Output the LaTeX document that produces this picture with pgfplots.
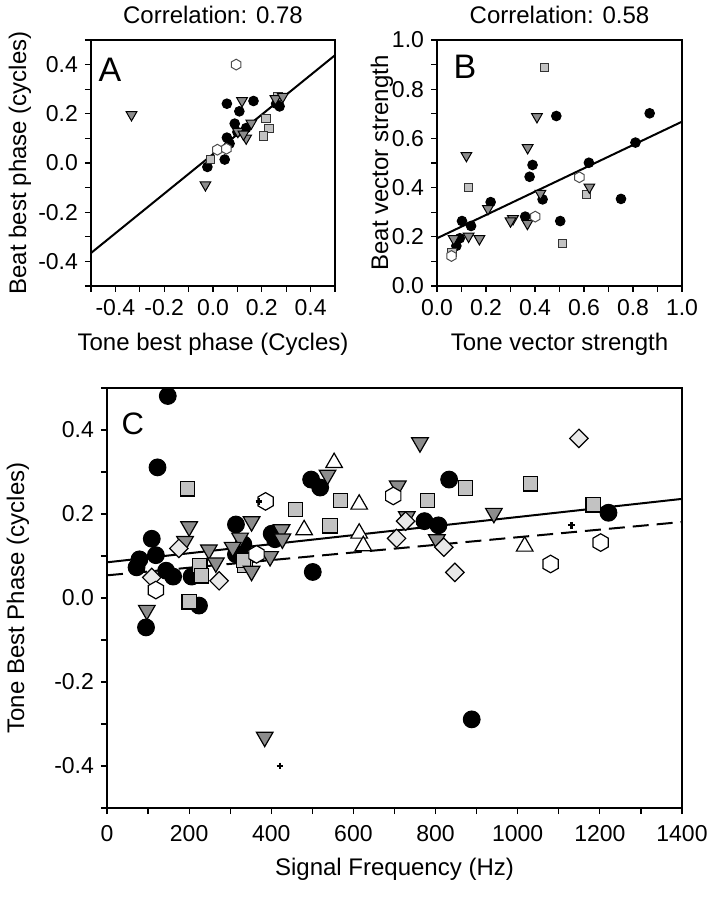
\documentclass[border=0pt]{standalone}
\usepackage{pgfplots}
\pgfplotsset{compat=1.18}
\usepackage{fontspec}
\setmainfont{Liberation Sans}

\definecolor{trigray}{gray}{0.55}
\definecolor{sqgray}{gray}{0.76}
\definecolor{diagray}{gray}{0.91}

\pgfdeclareplotmark{hexagon}{%
  \pgfpathmoveto{\pgfpointpolar{90}{\pgfplotmarksize}}%
  \pgfpathlineto{\pgfpointpolar{150}{\pgfplotmarksize}}%
  \pgfpathlineto{\pgfpointpolar{210}{\pgfplotmarksize}}%
  \pgfpathlineto{\pgfpointpolar{270}{\pgfplotmarksize}}%
  \pgfpathlineto{\pgfpointpolar{330}{\pgfplotmarksize}}%
  \pgfpathlineto{\pgfpointpolar{30}{\pgfplotmarksize}}%
  \pgfpathclose
  \pgfusepathqfillstroke}

\pgfplotsset{
  panel/.style={
    scale only axis,
    axis line style={line width=0.8pt},
    tick align=outside,
    xtick pos=left, ytick pos=left,
    major tick length=3pt, minor tick length=3pt,
    every tick/.style={black, line width=0.6pt},
    tick label style={font=\fontsize{11.5}{13}\selectfont},
    label style={font=\fontsize{12}{14}\selectfont},
    title style={font=\fontsize{12}{14}\selectfont},
    /pgf/number format/assume math mode=true,
    /pgf/number format/1000 sep={},
  },
  onedec/.style={
    #1ticklabel style={/pgf/number format/.cd, fixed, fixed zerofill, precision=1},
  },
  circS/.style={only marks, mark=*, mark size=2.4pt, mark options={fill=black, draw=black, line width=0.5pt}},
  triS/.style={only marks, mark=triangle*, mark size=3.1pt, mark options={rotate=180, fill=trigray, draw=black, line width=0.5pt}},
  sqS/.style={only marks, mark=square*, mark size=2.1pt, mark options={fill=sqgray, draw=black!80, line width=0.5pt}},
  hexS/.style={only marks, mark=hexagon, mark size=2.7pt, mark options={fill=white, draw=black!70, line width=0.5pt}},
  circL/.style={only marks, mark=*, mark size=4.2pt, mark options={fill=black, draw=black, line width=0.5pt}},
  triL/.style={only marks, mark=triangle*, mark size=4.8pt, mark options={rotate=180, fill=trigray, draw=black, line width=0.6pt}},
  utriL/.style={only marks, mark=triangle*, mark size=4.8pt, mark options={fill=white, draw=black, line width=0.6pt}},
  sqL/.style={only marks, mark=square*, mark size=3.6pt, mark options={fill=sqgray, draw=black, line width=0.6pt}},
  diaL/.style={only marks, mark=square*, mark size=3.25pt, mark options={rotate=45, fill=diagray, draw=black, line width=0.6pt}},
  hexL/.style={only marks, mark=hexagon, mark size=4.4pt, mark options={fill=white, draw=black, line width=0.6pt}},
  plusL/.style={only marks, mark=+, mark size=1.7pt, mark options={draw=black, line width=1.1pt}},
}

\begin{document}
\begin{tikzpicture}
\path[use as bounding box] (0,0) rectangle (357.5pt,450pt);

% ---------------- Panel A ----------------
\begin{axis}[panel, onedec=x, onedec=y,
  at={(45.5pt,307pt)}, anchor=south west, width=122pt, height=123pt,
  xmin=-0.5, xmax=0.5, ymin=-0.5, ymax=0.5,
  xtick={-0.4,-0.2,0,0.2,0.4}, minor xtick={-0.5,-0.3,-0.1,0.1,0.3,0.5},
  ytick={-0.4,-0.2,0,0.2,0.4}, minor ytick={-0.5,-0.3,-0.1,0.1,0.3,0.5},
  xlabel={Tone best phase (Cycles)}, ylabel={Beat best phase (cycles)},
  xlabel style={at={(axis description cs:0.5,-0.235)}, anchor=center},
  ylabel style={at={(axis description cs:-0.291,0.5)}, anchor=center},
  title={Correlation: 0.78},
  title style={at={(axis description cs:0.5,1)}, anchor=center, yshift=6.5pt},
]
\addplot[black, line width=1pt] coordinates {(-0.5,-0.366) (0.5,0.438)};
\addplot[circS] coordinates {(0.057,0.241) (0.166,0.252) (0.108,0.21) (0.089,0.16) (0.136,0.142) (0.057,0.103) (0.068,0.079) (0.048,0.014) (-0.023,-0.016) (0.273,0.23) (0.259,0.241) (0.100,0.126)};
\addplot[sqS] coordinates {(0.218,0.18) (0.229,0.14) (0.207,0.11) (0.266,0.271) (-0.01,0.014)};
\addplot[triS] coordinates {(-0.334,0.196) (-0.031,-0.089) (0.119,0.253) (0.157,0.162) (0.102,0.128) (0.136,0.101) (0.125,0.117) (0.256,0.261) (0.286,0.27)};
\addplot[hexS] coordinates {(0.095,0.40) (0.018,0.054) (0.055,0.058)};
\node[font=\fontsize{17}{17}\selectfont] at (rel axis cs:0.078,0.878) {A};
\end{axis}

% ---------------- Panel B ----------------
\begin{axis}[panel, onedec=x, onedec=y,
  at={(218.5pt,307pt)}, anchor=south west, width=122.5pt, height=123pt,
  xmin=0, xmax=1, ymin=0, ymax=1,
  xtick={0,0.2,0.4,0.6,0.8,1.0}, minor xtick={0.1,0.3,0.5,0.7,0.9},
  ytick={0,0.2,0.4,0.6,0.8,1.0}, minor ytick={0.1,0.3,0.5,0.7,0.9},
  xlabel={Tone vector strength}, ylabel={Beat vector strength},
  xlabel style={at={(axis description cs:0.5,-0.235)}, anchor=center},
  ylabel style={at={(axis description cs:-0.225,0.5)}, anchor=center},
  title={Correlation: 0.58},
  title style={at={(axis description cs:0.5,1)}, anchor=center, yshift=6.5pt},
]
\addplot[black, line width=1pt] coordinates {(0,0.194) (1,0.668)};
\addplot[circS] coordinates {(0.487,0.691) (0.868,0.702) (0.81,0.583) (0.62,0.501) (0.751,0.354) (0.39,0.492) (0.378,0.444) (0.431,0.352) (0.503,0.264) (0.36,0.282) (0.219,0.341) (0.102,0.264) (0.139,0.244) (0.093,0.194) (0.079,0.163)};
\addplot[sqS] coordinates {(0.439,0.889) (0.129,0.401) (0.61,0.373) (0.513,0.173) (0.061,0.135)};
\addplot[triS] coordinates {(0.408,0.688) (0.12,0.530) (0.37,0.562) (0.422,0.376) (0.622,0.402) (0.208,0.314) (0.31,0.273) (0.30,0.264) (0.369,0.254) (0.129,0.202) (0.173,0.192) (0.068,0.192)};
\addplot[hexS] coordinates {(0.581,0.442) (0.401,0.282) (0.059,0.122)};
\node[font=\fontsize{17}{17}\selectfont] at (rel axis cs:0.114,0.891) {B};
\end{axis}

% ---------------- Panel C ----------------
\begin{axis}[panel, onedec=y,
  at={(53.5pt,46pt)}, anchor=south west, width=287.5pt, height=210pt,
  xmin=0, xmax=1400, ymin=-0.5, ymax=0.5,
  xtick={0,200,...,1400}, minor xtick={100,300,...,1300},
  xticklabel style={yshift=-2pt},
  ytick={-0.4,-0.2,0,0.2,0.4}, minor ytick={-0.5,-0.3,-0.1,0.1,0.3,0.5},
  xlabel={Signal Frequency (Hz)}, ylabel={Tone Best Phase (cycles)},
  xlabel style={at={(axis description cs:0.5,-0.145)}, anchor=center},
  ylabel style={at={(axis description cs:-0.155,0.5)}, anchor=center},
]
\addplot[black, line width=1pt] coordinates {(0,0.085) (1400,0.236)};
\addplot[black, line width=1pt, dash pattern=on 8pt off 4pt] coordinates {(0,0.054) (1400,0.181)};
\addplot[circL] coordinates {(148,0.481) (123,0.311) (497,0.282) (519,0.263) (109,0.141) (119,0.102) (79,0.092) (72,0.073) (144,0.065) (161,0.051) (206,0.051) (314,0.175) (314,0.104) (332,0.128) (401,0.153) (409,0.14) (501,0.062) (833,0.282) (773,0.183) (807,0.173) (1221,0.203) (224,-0.018) (95,-0.07) (888,-0.289)};
\addplot[sqL] coordinates {(196,0.26) (459,0.211) (569,0.232) (543,0.172) (226,0.077) (230,0.053) (336,0.078) (332,0.09) (200,-0.009) (873,0.262) (1031,0.272) (780,0.232) (1184,0.222)};
\addplot[triL] coordinates {(537,0.293) (200,0.170) (190,0.135) (248,0.115) (265,0.084) (352,0.182) (324,0.143) (306,0.121) (352,0.064) (425,0.163) (427,0.141) (397,0.099) (762,0.370) (708,0.267) (730,0.194) (942,0.202) (803,0.139) (97,-0.029) (384,-0.331)};
\addplot[diaL] coordinates {(175,0.118) (109,0.049) (273,0.041) (705,0.142) (727,0.183) (820,0.121) (847,0.061) (1149,0.38)};
\addplot[utriL] coordinates {(553,0.322) (614,0.223) (480,0.162) (614,0.154) (624,0.124) (1017,0.123)};
\addplot[hexL] coordinates {(386,0.23) (119,0.019) (364,0.104) (697,0.243) (1202,0.132) (1080,0.081)};
\addplot[plusL] coordinates {(370,0.23) (1131,0.173) (421,-0.4)};
\node[font=\fontsize{15.5}{15.5}\selectfont] at (rel axis cs:0.045,0.914) {C};
\end{axis}
\end{tikzpicture}
\end{document}
